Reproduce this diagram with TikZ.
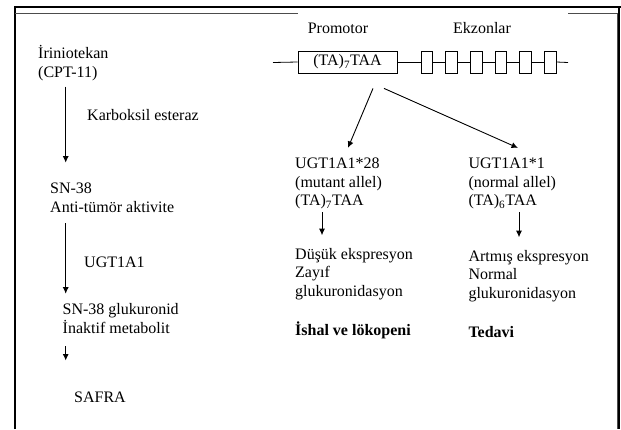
\documentclass[tikz,border=0pt]{standalone}
\usepackage{fontspec}
\setmainfont{Liberation Serif}
\usetikzlibrary{arrows.meta,positioning,calc}
\tikzset{yazi/.style={anchor=base west,align=left,inner sep=0pt,font=\fontsize{16}{18.5}\selectfont}}
\tikzset{kalin/.style={yazi,font=\fontsize{16}{18.5}\selectfont\bfseries}}
\tikzset{ok/.style={-{Latex[length=6.5pt,width=6pt]},line width=0.9pt}}
\tikzset{kutu/.style={draw,line width=0.8pt,minimum height=22pt,inner sep=0pt,font=\fontsize{16}{18.5}\selectfont}}
\begin{document}
\begin{tikzpicture}[x=1pt,y=-1pt]
  \useasboundingbox (0,0) rectangle (621,429);

  %cerceve
  \draw[line width=2.4pt] (15,429) -- (15,7) -- (621,7);
  \draw[line width=2.2pt] (619,7) -- (619,429);
  \draw[line width=1pt,black!70] (15,13.5) -- (298,13.5);
  \draw[line width=1pt,black!70] (568,13.5) -- (617,13.5) -- (617,429);

  %sol taraf: metabolizma
  \coordinate (ox) at (65.7,0);
  \node[yazi] (iri) at (38,77) {İriniotekan\\(CPT-11)};
  \node[yazi] (kar) at (87,120.7) {Karboksil esteraz};
  \node[yazi] (sn) at (50,212) {SN-38\\Anti-tümör aktivite};
  \node[yazi] (ugt) at (84,267) {UGT1A1};
  \node[yazi] (glu) at (62.5,333) {SN-38 glukuronid\\İnaktif metabolit};
  \node[yazi] (saf) at (74,402) {SAFRA};
  \draw[ok] ($(iri.south -| ox)+(0,6)$) -- ($(sn.north -| ox)+(0,-20)$);
  \draw[ok] ($(sn.south -| ox)+(0,11)$) -- ($(glu.north -| ox)+(0,-9.5)$);
  \draw[ok] ($(glu.south -| ox)+(0,12.7)$) -- ($(saf.north -| ox)+(0,-30.7)$);

  %gen
  \node[yazi,anchor=base] (promb) at (338,33.3) {Promotor};
  \node[yazi,anchor=base] (ekzb) at (482,33.3) {Ekzonlar};
  \coordinate (ls) at (273,62.5);
  \coordinate (le) at (568,62.5);
  \node[kutu,minimum width=99pt] (pro) at (347.5,62) {(TA)\textsubscript{7}TAA};
  \foreach \i in {1,...,6}
    \node[kutu,minimum width=11.7pt] (e\i) at ({426.8+(\i-1)*24.67},62) {};
  \draw[line width=0.8pt] (ls) -- (pro.west);
  \draw[line width=0.8pt] (pro.east) -- (e1.west);
  \foreach \i [evaluate=\i as \j using int(\i+1)] in {1,...,5}
    \draw[line width=0.8pt] (e\i.east) -- (e\j.west);
  \draw[line width=0.8pt] (e6.east) -- (le);

  %aleller
  \node[yazi] (mut) at (295,205.7) {UGT1A1*28\\(mutant allel)\\(TA)\textsubscript{7}TAA};
  \node[yazi] (nor) at (468.3,205.7) {UGT1A1*1\\(normal allel)\\(TA)\textsubscript{6}TAA};
  \node[yazi] (dus) at (295,296) {Düşük ekspresyon\\Zayıf\\glukuronidasyon};
  \node[yazi] (art) at (468.3,298) {Artmış ekspresyon\\Normal\\glukuronidasyon};
  \node[kalin] (ish) at (295,335) {İshal ve lökopeni};
  \node[kalin] (ted) at (468.3,337.7) {Tedavi};
  \draw[ok] ($(pro.south)+(25.5,15)$) -- ($(mut.north west)+(53,-10)$);
  \draw[ok] ($(pro.south)+(36.5,15)$) -- ($(nor.north west)+(49.7,-10)$);
  \draw[ok] ($(mut.south west)+(27,3)$) -- ($(dus.north west)+(27,-12.5)$);
  \draw[ok] ($(nor.south west)+(50.7,3)$) -- ($(art.north west)+(50.7,-12.5)$);
\end{tikzpicture}
\end{document}
